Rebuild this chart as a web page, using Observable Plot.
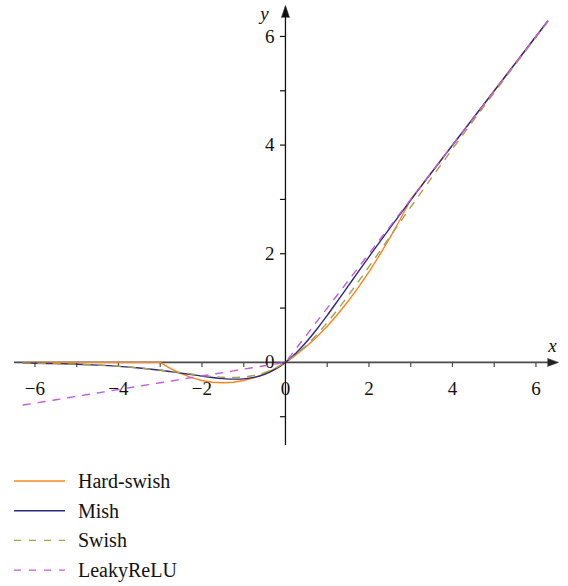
<!DOCTYPE html>
<html><head><meta charset="utf-8">
<script src="https://cdn.jsdelivr.net/npm/d3@7"></script>
<script src="https://cdn.jsdelivr.net/npm/@observablehq/plot@0.6"></script>
<style>
body{margin:0;background:#fff;font-family:"Liberation Serif",serif;}
#chart svg, #legend svg{display:block;}
#chart svg text{font-family:"Liberation Serif",serif !important;font-size:19px !important;}
#chart svg g.axislabel text{font-size:20px !important;font-style:italic !important;}
</style></head><body><div id="chart"></div><div id="legend"></div>
<script>
const xs = [-6.28,-6,-5.5,-5,-4.5,-4,-3.5,-3,-2.75,-2.5,-2.25,-2,-1.75,-1.5,-1.25,-1,-0.75,-0.5,-0.25,0,0.25,0.5,0.75,1,1.25,1.5,1.75,2,2.25,2.5,2.75,3,3.5,4,4.5,5,5.5,6,6.28];
const hardSwish = [0,0,0,0,0,0,0,0,-0.1146,-0.2083,-0.2813,-0.3333,-0.3646,-0.375,-0.3646,-0.3333,-0.2813,-0.2083,-0.1146,0,0.1354,0.2917,0.4688,0.6667,0.8854,1.125,1.3854,1.6667,1.9688,2.2917,2.6354,3,3.5,4,4.5,5,5.5,6,6.28];
const mish = [-0.0118,-0.0149,-0.0224,-0.0336,-0.0497,-0.0726,-0.1041,-0.1456,-0.1702,-0.1968,-0.2247,-0.2525,-0.2780,-0.2981,-0.3084,-0.3034,-0.2765,-0.2207,-0.1299,0,0.1696,0.3752,0.6100,0.8651,1.1319,1.4034,1.6749,1.9440,2.2095,2.4714,2.7302,2.9865,3.4940,3.9974,4.4989,4.9996,5.4998,5.9999,6.2800];
const swish = [-0.0118,-0.0148,-0.0224,-0.0335,-0.0494,-0.0719,-0.1026,-0.1423,-0.1652,-0.1897,-0.2145,-0.2384,-0.2591,-0.2736,-0.2784,-0.2689,-0.2406,-0.1888,-0.1095,0,0.1405,0.3112,0.5094,0.7311,0.9716,1.2264,1.4909,1.7616,2.0355,2.3104,2.5848,2.8577,3.3974,3.9281,4.4506,4.9665,5.4776,5.9852,6.2683];
const leakyReLU = [-0.785,-0.75,-0.6875,-0.625,-0.5625,-0.5,-0.4375,-0.375,-0.3438,-0.3125,-0.2813,-0.25,-0.2188,-0.1875,-0.1563,-0.125,-0.0938,-0.0625,-0.0313,0,0.25,0.5,0.75,1,1.25,1.5,1.75,2,2.25,2.5,2.75,3,3.5,4,4.5,5,5.5,6,6.28];

const seriesNames = ["Hard-swish","Mish","Swish","LeakyReLU"];
const seriesColors = ["#f7861e","#2b2a7e","#a3a052","#c25dd6"];
const seriesDash = [null,null,"7,8","7,8"];
const seriesCurve = ["linear","catmull-rom","catmull-rom","linear"];
const seriesValues = [hardSwish, mish, swish, leakyReLU];

const xTicks = [-6,-5,-4,-3,-2,-1,1,2,3,4,5,6];
const xTickLabels = [-6,-4,-2,0,2,4,6];
const yTicks = [-1,1,2,3,4,5,6];
const yTickLabels = [0,2,4,6];

const xDomain = [-6.49, 6.54];
const yDomain = [-1.53, 6.57];
const W = 568, H = 462;
const mL = 14, mR = 10, mT = 5, mB = 17;
const yUnit = (H - mT - mB) / (yDomain[1] - yDomain[0]);
const xUnit = (W - mL - mR) / (xDomain[1] - xDomain[0]);
const fmt = d => d < 0 ? "\u2212" + Math.abs(d) : String(d);
const font = "Liberation Serif";

const rows = seriesNames.map((s, i) => xs.map((x, j) => ({series: s, x, y: seriesValues[i][j]})));

const marks = [
  Plot.ruleY([0], {x1: xDomain[0], x2: xDomain[1] - 8 / xUnit, stroke: "#4a4a4a", strokeWidth: 1.6}),
  Plot.ruleX([0], {y1: yDomain[0], y2: yDomain[1] - 8 / yUnit, stroke: "#111", strokeWidth: 1.3}),
  Plot.ruleX(xTicks, {x: d => d, y1: 0, y2: -5 / yUnit, stroke: "#4a4a4a", strokeWidth: 1.2}),
  Plot.ruleY(yTicks, {y: d => d, x1: 0, x2: -5 / xUnit, stroke: "#111", strokeWidth: 1.2}),
  Plot.vector([0], {x: xDomain[1] - 11 / xUnit, y: 0, length: 11, rotate: 90, shape: "spike", r: 4, anchor: "start", fill: "#222", stroke: "#222", strokeWidth: 0.5}),
  Plot.vector([0], {x: 0, y: yDomain[1] - 12 / yUnit, length: 12, rotate: 0, shape: "spike", r: 4, anchor: "start", fill: "#111", stroke: "#111", strokeWidth: 0.5}),
  Plot.text(xTickLabels, {x: d => d, y: 0, text: fmt, dy: 27, fontSize: 19, fontFamily: font, fill: "#111", textAnchor: "middle", lineAnchor: "middle"}),
  Plot.text(yTickLabels, {x: 0, y: d => d, text: fmt, dx: -11, fontSize: 19, fontFamily: font, fill: "#111", textAnchor: "end", lineAnchor: "middle"}),
  Plot.text(["x"], {x: xDomain[1], y: 0, text: d => d, dx: -6, dy: -16, fontSize: 20, fontStyle: "italic", fontFamily: font, fill: "#111", lineAnchor: "middle"}),
  Plot.text(["y"], {x: 0, y: yDomain[1], text: d => d, dx: -21, dy: 8, fontSize: 20, fontStyle: "italic", fontFamily: font, fill: "#111", lineAnchor: "middle"})
];
seriesNames.forEach((s, i) => {
  marks.push(Plot.line(rows[i], {x: "x", y: "y", stroke: seriesColors[i], strokeWidth: 1.4, strokeDasharray: seriesDash[i], curve: seriesCurve[i]}));
});

const chart = Plot.plot({
  width: W, height: H,
  marginLeft: mL, marginRight: mR, marginTop: mT, marginBottom: mB,
  x: {domain: xDomain, axis: null},
  y: {domain: yDomain, axis: null},
  style: {background: "#fff", fontFamily: font, fontSize: "19px"},
  marks
});
document.getElementById("chart").appendChild(chart);
// italic axis-name labels
d3.select(chart).selectAll("text").filter(function() { return this.textContent === "x" || this.textContent === "y"; })
  .style("font-style", "italic").style("font-size", "20px");

// legend
const lg = d3.select("#legend").append("svg").attr("width", W).attr("height", 586 - H);
seriesNames.forEach((s, i) => {
  const cy = 19 + i * 29.7;
  lg.append("line").attr("x1", 14).attr("x2", 65).attr("y1", cy).attr("y2", cy)
    .attr("stroke", seriesColors[i]).attr("stroke-width", 1.4)
    .attr("stroke-dasharray", seriesDash[i]);
  lg.append("text").attr("x", 78).attr("y", cy).attr("dy", "0.35em")
    .attr("font-family", font).attr("font-size", 20).attr("fill", "#111").text(s);
});
</script></body></html>
